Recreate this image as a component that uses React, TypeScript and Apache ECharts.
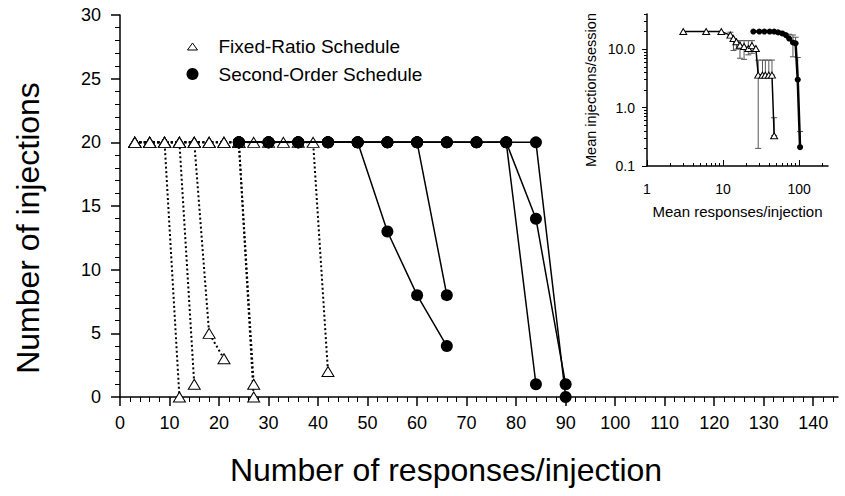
import React, { useEffect, useRef } from "react";
import * as echarts from "echarts";

// ---------- main panel data ----------
const frResponses = [3, 6, 9, 12, 15, 18, 21, 24, 27, 30, 33, 36, 39, 42];
const frInjections: number[][] = [
  [20, 20, 20, 0],
  [20, 20, 20, 20, 1],
  [20, 20, 20, 20, 20, 5, 3],
  [20, 20, 20, 20, 20, 20, 20, 20, 1],
  [20, 20, 20, 20, 20, 20, 20, 20, 0],
  [20, 20, 20, 20, 20, 20, 20, 20, 20, 20, 20, 20, 20, 2],
];
const soResponses = [24, 30, 36, 42, 48, 54, 60, 66, 72, 78, 84, 90];
const soInjections: number[][] = [
  [20, 20, 20, 20, 20, 13, 8, 4],
  [20, 20, 20, 20, 20, 20, 20, 8],
  [20, 20, 20, 20, 20, 20, 20, 20, 20, 20, 1],
  [20, 20, 20, 20, 20, 20, 20, 20, 20, 20, 14, 1],
  [20, 20, 20, 20, 20, 20, 20, 20, 20, 20, 20, 0],
];
const xMajorTicks = [0, 10, 20, 30, 40, 50, 60, 70, 80, 90, 100, 110, 120, 130, 140];
const xMinorTicks = [
  2, 4, 6, 8, 12, 14, 16, 18, 22, 24, 26, 28, 32, 34, 36, 38, 42, 44, 46, 48, 52, 54, 56, 58,
  62, 64, 66, 68, 72, 74, 76, 78, 82, 84, 86, 88, 92, 94, 96, 98, 102, 104, 106, 108, 112, 114,
  116, 118, 122, 124, 126, 128, 132, 134, 136, 138, 142, 144,
];

// ---------- inset data (log-log means) ----------
const insetFrX = [3, 6, 9.5, 12.5, 13.7, 15, 16.7, 18.9, 21.5, 24, 27, 29, 33, 36, 40, 44, 47];
const insetFrY = [20, 20, 20, 17.4, 15.2, 13.4, 11.7, 11.1, 10.3, 11.5, 10.3, 3.6, 3.6, 3.6, 3.6, 3.6, 0.33];
const insetSoX = [25, 30, 35, 41, 47, 53, 60, 67, 74, 83, 90, 96, 103];
const insetSoY = [20, 20, 20, 20, 20, 19.4, 18.6, 17.4, 15.2, 13, 12.6, 3, 0.21];
const frErrX = [12.5, 13.7, 15, 16.7, 18.9, 21.5, 24, 29, 33, 36, 40, 44, 47];
const frErrLow = [17.4, 9.5, 10, 7, 6.7, 8, 8.5, 0.2, 3.6, 3.6, 3.6, 3.6, 0.33];
const frErrHigh = [19.5, 15.2, 13.4, 14, 14, 14, 14, 6.5, 6.5, 6.5, 6.5, 6.5, 0.67];
const soErrX = [74, 83, 90, 96, 103];
const soErrLow = [15.2, 7.4, 12.6, 3, 0.21];
const soErrHigh = [18, 17.5, 16, 7.2, 0.39];
const insetXMajor = [1, 10, 100];
const insetXMinor = [2, 3, 4, 5, 6, 7, 8, 9, 20, 30, 40, 50, 60, 70, 80, 90, 200];
const insetYMajor = [0.1, 1, 10];
const insetYMinor = [0.2, 0.3, 0.4, 0.5, 0.6, 0.7, 0.8, 0.9, 2, 3, 4, 5, 6, 7, 8, 9, 20, 30, 40];

const FR_NAME = "Fixed-Ratio Schedule";
const SO_NAME = "Second-Order Schedule";
const FONT = "Liberation Sans, Arial, sans-serif";
// small open triangle inside a 12x12 legend box
const LEGEND_TRIANGLE = "path://M0,0M12,12M1,10L6,3L11,10Z";

function errRender(params: any, api: any) {
  const x = api.value(0);
  const lo = api.coord([x, api.value(1)]);
  const hi = api.coord([x, api.value(2)]);
  const cap = 3;
  const st = { stroke: "#555", lineWidth: 1 };
  return {
    type: "group",
    children: [
      { type: "line", shape: { x1: lo[0], y1: lo[1], x2: hi[0], y2: hi[1] }, style: st },
      { type: "line", shape: { x1: hi[0] - cap, y1: hi[1], x2: hi[0] + cap, y2: hi[1] }, style: st },
      { type: "line", shape: { x1: lo[0] - cap, y1: lo[1], x2: lo[0] + cap, y2: lo[1] }, style: st },
    ],
  };
}

export default function App() {
  const ref = useRef<HTMLDivElement>(null);
  useEffect(() => {
    if (!ref.current) return;
    const chart = echarts.init(ref.current, null, { renderer: "svg" });

    const frSeries = frInjections.map((ys) => ({
      type: "line",
      name: FR_NAME,
      xAxisIndex: 0,
      yAxisIndex: 0,
      data: ys.map((y, i) => [frResponses[i], y]),
      symbol: "triangle",
      symbolSize: [12, 10],
      itemStyle: { color: "#fff", borderColor: "#000", borderWidth: 1 },
      lineStyle: { color: "#000", width: 2, type: [2, 2.5] },
      z: 2,
    }));
    const soSeries = soInjections.map((ys) => ({
      type: "line",
      name: SO_NAME,
      xAxisIndex: 0,
      yAxisIndex: 0,
      data: ys.map((y, i) => [soResponses[i], y]),
      symbol: "circle",
      symbolSize: 12,
      itemStyle: { color: "#000" },
      lineStyle: { color: "#000", width: 1.5 },
      z: 3,
    }));

    const axisLineBlack = { show: true, lineStyle: { color: "#000", width: 1.5 } };

    const option: any = {
      animation: false,
      textStyle: { fontFamily: FONT, color: "#000" },
      grid: [
        { left: 120, top: 15, width: 718, height: 382 },
        { left: 647, top: 14, width: 181, height: 152 },
      ],
      legend: {
        orient: "vertical",
        left: 181,
        top: 31,
        itemWidth: 12,
        itemHeight: 12,
        itemGap: 8,
        textStyle: { fontSize: 19, color: "#000", fontFamily: FONT, lineHeight: 20, padding: [0, 0, 0, 15] },
        data: [
          { name: FR_NAME, icon: LEGEND_TRIANGLE, itemStyle: { color: "#fff", borderColor: "#000", borderWidth: 1 } },
          { name: SO_NAME, icon: "circle", itemStyle: { color: "#000" } },
        ],
      },
      xAxis: [
        {
          type: "value",
          gridIndex: 0,
          min: 0,
          max: 145,
          axisLine: axisLineBlack,
          axisTick: { show: true, customValues: xMajorTicks, length: 9, lineStyle: { color: "#000", width: 1.5 } },
          axisLabel: { customValues: xMajorTicks, fontSize: 18, color: "#000", margin: 17, fontFamily: FONT },
          splitLine: { show: false },
          name: "Number of responses/injection",
          nameLocation: "middle",
          nameGap: 57,
          nameTextStyle: { fontSize: 32, color: "#000", fontFamily: FONT, padding: [0, 66, 0, 0] },
        },
        {
          type: "value",
          gridIndex: 0,
          position: "bottom",
          min: 0,
          max: 145,
          axisLine: { show: false },
          axisTick: { show: true, customValues: xMinorTicks, length: 5, lineStyle: { color: "#000", width: 1 } },
          axisLabel: { show: false },
          splitLine: { show: false },
        },
        {
          type: "log",
          logBase: 10,
          gridIndex: 1,
          min: 1,
          max: 240,
          position: "bottom",
          axisLine: axisLineBlack,
          axisTick: { show: true, inside: true, customValues: insetXMajor, length: 6, lineStyle: { color: "#000" } },
          axisLabel: { customValues: insetXMajor, fontSize: 14, color: "#000", margin: 16, formatter: (v: number) => String(v) },
          splitLine: { show: false },
          name: "Mean responses/injection",
          nameLocation: "middle",
          nameGap: 38,
          nameTextStyle: { fontSize: 15, color: "#000", fontFamily: FONT },
        },
        {
          type: "log",
          logBase: 10,
          gridIndex: 1,
          min: 1,
          max: 240,
          position: "bottom",
          axisLine: { show: false },
          axisTick: { show: true, inside: true, customValues: insetXMinor, length: 3, lineStyle: { color: "#000" } },
          axisLabel: { show: false },
          splitLine: { show: false },
        },
      ],
      yAxis: [
        {
          type: "value",
          gridIndex: 0,
          min: 0,
          max: 30,
          interval: 5,
          axisLine: axisLineBlack,
          axisTick: { show: true, length: 9, lineStyle: { color: "#000", width: 1.5 } },
          minorTick: { show: true, splitNumber: 5, length: 5, lineStyle: { color: "#000", width: 1 } },
          axisLabel: { fontSize: 18, color: "#000", margin: 19, fontFamily: FONT },
          splitLine: { show: false },
          minorSplitLine: { show: false },
          name: "Number of injections",
          nameLocation: "middle",
          nameGap: 76,
          nameRotate: 90,
          nameTextStyle: { fontSize: 32, color: "#000", fontFamily: FONT, padding: [0, 44, 0, 0] },
        },
        {
          type: "log",
          logBase: 10,
          gridIndex: 1,
          position: "left",
          min: 0.1,
          max: 40,
          axisLine: axisLineBlack,
          axisTick: { show: true, customValues: insetYMajor, length: 5, lineStyle: { color: "#000" } },
          axisLabel: { customValues: insetYMajor, fontSize: 14, color: "#000", margin: 12, formatter: (v: number) => v.toFixed(1) },
          splitLine: { show: false },
          name: "Mean injections/session",
          nameLocation: "middle",
          nameGap: 49,
          nameRotate: 90,
          nameTextStyle: { fontSize: 14.5, color: "#000", fontFamily: FONT },
        },
        {
          type: "log",
          logBase: 10,
          gridIndex: 1,
          position: "left",
          offset: 0,
          min: 0.1,
          max: 40,
          axisLine: { show: false },
          axisTick: { show: true, customValues: insetYMinor, length: 3, lineStyle: { color: "#000" } },
          axisLabel: { show: false },
          splitLine: { show: false },
        },
      ],
      series: [
        ...frSeries,
        ...soSeries,
        {
          type: "custom",
          name: "FR error",
          xAxisIndex: 2,
          yAxisIndex: 1,
          renderItem: errRender,
          encode: { x: 0, y: [1, 2] },
          data: frErrX.map((x, i) => [x, frErrLow[i], frErrHigh[i]]),
          z: 1,
        },
        {
          type: "custom",
          name: "SO error",
          xAxisIndex: 2,
          yAxisIndex: 1,
          renderItem: errRender,
          encode: { x: 0, y: [1, 2] },
          data: soErrX.map((x, i) => [x, soErrLow[i], soErrHigh[i]]),
          z: 1,
        },
        {
          type: "line",
          name: "FR mean",
          xAxisIndex: 2,
          yAxisIndex: 1,
          data: insetFrX.map((x, i) => [x, insetFrY[i]]),
          symbol: "triangle",
          symbolSize: [7, 6],
          itemStyle: { color: "#fff", borderColor: "#000", borderWidth: 1 },
          lineStyle: { color: "#000", width: 1.5 },
          z: 2,
        },
        {
          type: "line",
          name: "SO mean",
          xAxisIndex: 2,
          yAxisIndex: 1,
          data: insetSoX.map((x, i) => [x, insetSoY[i]]),
          symbol: "circle",
          symbolSize: 6,
          itemStyle: { color: "#000" },
          lineStyle: { color: "#000", width: 2.5 },
          z: 3,
        },
      ],
    };
    chart.setOption(option);
    return () => chart.dispose();
  }, []);
  return (
    <div
      ref={ref}
      style={{ position: "fixed", left: 0, top: 0, width: 845, height: 496, background: "#fff" }}
    />
  );
}
